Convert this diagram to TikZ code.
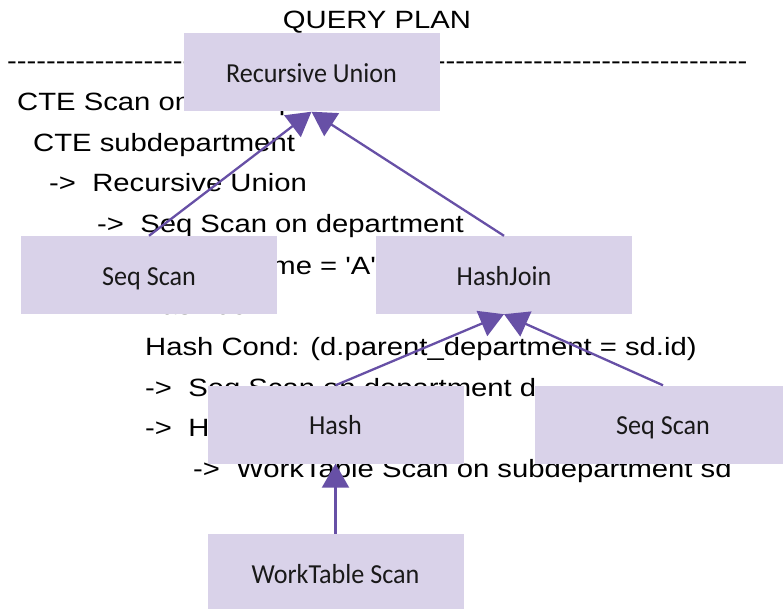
\documentclass[tikz,border=0pt]{standalone}
\usepackage{fontspec}
\usetikzlibrary{arrows.meta}
\newfontfamily\planfont{Liberation Sans}[FakeStretch=1.17]
\newfontfamily\boxfont{Carlito}[FakeStretch=0.95]
\definecolor{boxfill}{RGB}{217,210,233}
\definecolor{arrowc}{RGB}{103,80,166}
\tikzset{
  planline/.style={anchor=base west, inner sep=0pt, font=\planfont\fontsize{25}{30}\selectfont},
  opbox/.style={fill=boxfill, draw=none, inner sep=0pt, minimum width=256pt, minimum height=78pt,
    text height=20pt, text depth=0pt,
    font=\boxfont\fontsize{27.5}{32}\selectfont, text=black!90},
  link/.style={draw=arrowc, line width=2.3pt, -{Triangle[length=24pt,width=27pt]}}
}
\begin{document}
\begin{tikzpicture}[x=1pt,y=-1pt]
\useasboundingbox (0,0) rectangle (783,609);
\clip (0,0) rectangle (783,609);
% background text (query plan)
\node[planline, anchor=base] (title) at (377,29) {QUERY PLAN};
\node[planline] (dashes) at (7,70) {----------------------------------------------------------------------------};
\node[planline] (l1) at (17,111) {CTE Scan on subdepartment};
\node[planline] (l2) at (33,152) {CTE subdepartment};
\node[planline] (l3) at (49,192) {->\ \ Recursive Union};
\node[planline] (l4) at (97,233) {->\ \ Seq Scan on department};
\node[planline] (l5) at (145,274) {Filter: (name = 'A'::text)};
\node[planline] (l6) at (97,314) {->\ \ Hash Join};
\node[planline] (l7) at (145,355) {Hash Cond: (d.parent\_department = sd.id)};
\node[planline] (l8) at (145,396) {->\ \ Seq Scan on department d};
\node[planline] (l9) at (145,436) {->\ \ Hash};
\node[planline] (l10) at (193,477) {->\ \ WorkTable Scan on subdepartment sd};
% operator boxes
\node[opbox] (ru) at (311.5,72.5) {Recursive Union};
\node[opbox] (ssl) at (149,275) {Seq Scan};
\node[opbox] (hj) at (504,275) {HashJoin};
\node[opbox] (hash) at (335.5,424.5) {Hash};
\node[opbox] (ssr) at (663,424.5) {Seq Scan};
\node[opbox] (wt) at (335.5,573) {WorkTable Scan};
% connectors
\draw[link] (ssl.north) -- (ru.south);
\draw[link] (hj.north) -- (ru.south);
\draw[link] (hash.north) -- (hj.south);
\draw[link] (ssr.north) -- (hj.south);
\draw[link] (wt.north) -- (hash.south);
\end{tikzpicture}
\end{document}
